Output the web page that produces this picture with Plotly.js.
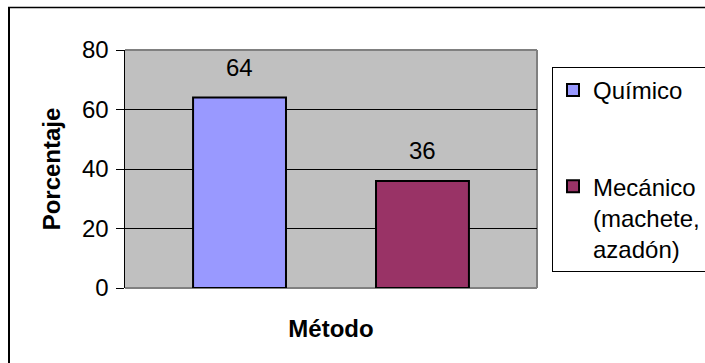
<!DOCTYPE html>
<html>
<head>
<meta charset="utf-8">
<script src="https://cdn.plot.ly/plotly-3.0.1.min.js"></script>
<style>html,body{margin:0;padding:0;background:#fff;}</style>
</head>
<body>
<div id="chart" style="width:705px;height:363px;"></div>
<script>
// Data
const metodos = ['Químico', 'Mecánico (machete, azadón)'];
const legendLabels = ['Químico', 'Mecánico<br>(machete,<br>azadón)'];
const porcentajes = [64, 36];
const colores = ['#9999FF', '#993366'];
const yTicks = [0, 20, 40, 60, 80];

const FONT = 'Liberation Sans, Arial, sans-serif';
const FS = 24;

const traces = metodos.map((m, i) => ({
  type: 'bar',
  x: [m],
  y: [porcentajes[i]],
  name: legendLabels[i],
  legendgroup: 'g' + i,
  width: 0.508,
  marker: {color: colores[i], line: {color: '#000', width: 2}},
  hoverinfo: 'none'
}));

const annotations = metodos.map((m, i) => ({
  x: m, y: porcentajes[i], text: String(porcentajes[i]),
  xref: 'x', yref: 'y', showarrow: false,
  yanchor: 'bottom', yshift: 15,
  font: {family: FONT, size: FS, color: '#000'}
}));

// pixel -> paper helpers (plot area 125..537 x, 50..288 y)
const px = v => (v - 125) / 412;
const py = v => (288 - v) / 238;

const shapes = [
  {type: 'line', xref: 'paper', yref: 'paper', x0: 0, x1: 1, y0: 1, y1: 1, line: {color: '#808080', width: 2}, layer: 'between'},
  {type: 'line', xref: 'paper', yref: 'paper', x0: 1, x1: 1, y0: 0, y1: 1, line: {color: '#808080', width: 2}, layer: 'between'},
  {type: 'line', xref: 'paper', yref: 'paper', x0: 0, x1: 1, y0: 0, y1: 0, line: {color: '#808080', width: 2}, layer: 'between'},
  {type: 'line', xref: 'paper', yref: 'paper', x0: px(9), x1: px(9), y0: py(7), y1: py(363), line: {color: '#000', width: 2}},
  {type: 'line', xref: 'paper', yref: 'paper', x0: px(8), x1: px(705), y0: py(7.5), y1: py(7.5), line: {color: '#000', width: 1.5}}
];

const layout = {
  width: 705, height: 363,
  margin: {l: 125, r: 168, t: 50, b: 75, pad: 0, autoexpand: false},
  paper_bgcolor: '#fff',
  plot_bgcolor: '#C0C0C0',
  font: {family: FONT, size: FS, color: '#000'},
  barmode: 'overlay',
  showlegend: true,
  legend: {
    x: px(552), y: py(67), xanchor: 'left', yanchor: 'top',
    bordercolor: '#000', borderwidth: 1, bgcolor: '#fff',
    font: {family: FONT, size: FS, color: '#000'},
    traceorder: 'grouped', tracegroupgap: 62, valign: 'top'
  },
  xaxis: {
    type: 'category',
    range: [-0.626, 1.626],
    showticklabels: false, ticks: '', showgrid: false, zeroline: false, showline: false,
    title: {text: 'Método', font: {family: FONT, size: FS, weight: 'bold'}, standoff: 32},
    automargin: false,
    fixedrange: true
  },
  yaxis: {
    range: [0, 80],
    tickvals: yTicks,
    ticktext: yTicks.map(String),
    ticks: 'outside', ticklen: 8, tickwidth: 1, tickcolor: '#000',
    ticklabelstandoff: 2,
    tickfont: {family: FONT, size: FS, color: '#000'},
    showgrid: true, gridcolor: '#000', gridwidth: 1,
    zeroline: false,
    showline: true, linecolor: '#000', linewidth: 1.5,
    title: {text: 'Porcentaje', font: {family: FONT, size: FS, weight: 'bold'}, standoff: 14},
    automargin: false,
    fixedrange: true
  },
  annotations: annotations,
  shapes: shapes
};

Plotly.newPlot('chart', traces, layout, {displayModeBar: false, staticPlot: true});
</script>
</body>
</html>
